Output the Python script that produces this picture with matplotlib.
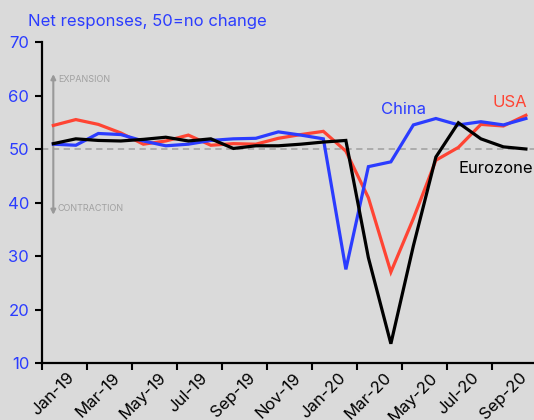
import matplotlib
matplotlib.use("Agg")
import matplotlib.pyplot as plt
from matplotlib.ticker import FixedLocator

plt.rcParams['font.family'] = ['Inter', 'DejaVu Sans']

months = ["Jan-19", "Feb-19", "Mar-19", "Apr-19", "May-19", "Jun-19", "Jul-19", "Aug-19",
          "Sep-19", "Oct-19", "Nov-19", "Dec-19", "Jan-20", "Feb-20", "Mar-20", "Apr-20",
          "May-20", "Jun-20", "Jul-20", "Aug-20", "Sep-20", "Oct-20"]
china = [50.9, 50.7, 52.9, 52.7, 51.5, 50.6, 50.9, 51.6, 51.9, 52.0, 53.2, 52.6,
         51.9, 27.5, 46.7, 47.6, 54.5, 55.7, 54.5, 55.1, 54.5, 55.7]
usa = [54.4, 55.5, 54.6, 53.0, 50.9, 51.5, 52.6, 50.7, 51.0, 50.9, 52.0, 52.7,
       53.3, 49.6, 40.9, 27.0, 37.0, 47.9, 50.3, 54.6, 54.3, 56.3]
eurozone = [51.0, 51.9, 51.6, 51.5, 51.8, 52.2, 51.5, 51.9, 50.1, 50.6, 50.6, 50.9,
            51.3, 51.6, 29.7, 13.6, 31.9, 48.5, 54.9, 51.9, 50.4, 50.0]
yticks = [10, 20, 30, 40, 50, 60, 70]

BLUE = "#2b3cff"
RED = "#ff4433"
BG = "#dadada"

fig = plt.figure(figsize=(5.34, 4.2), dpi=100, facecolor=BG)
ax = fig.add_axes([41.7 / 534, 57 / 420, 1 - 41.7 / 534, (363 - 42) / 420])
ax.set_facecolor(BG)

x = list(range(len(months)))
ax.axhline(50, color="#a8a8a8", lw=1.3, ls=(0, (3.5, 2.5)), zorder=1)
ax.plot(x, china, color=BLUE, lw=2.3, zorder=3, solid_joinstyle='miter')
ax.plot(x, usa, color=RED, lw=2.3, zorder=2, solid_joinstyle='miter')
ax.plot(x, eurozone, color="black", lw=2.3, zorder=4, solid_joinstyle='miter')

ax.set_xlim(-0.516, 21.36)
ax.set_ylim(10, 70)

for s in ["top", "right"]:
    ax.spines[s].set_visible(False)
for s in ["left", "bottom"]:
    ax.spines[s].set_linewidth(1.6)
    ax.spines[s].set_color("black")

ax.set_yticks(yticks)
ax.tick_params(axis='y', direction='out', length=5, width=1.5, colors='black',
               labelcolor=BLUE, labelsize=12, pad=4)

ax.xaxis.set_major_locator(FixedLocator(x[::2]))
ax.set_xticklabels(months[::2])
ax.xaxis.set_minor_locator(FixedLocator([i - 0.5 for i in x[::2]]))
ax.tick_params(axis='x', which='major', length=0, labelsize=12, pad=5)
ax.tick_params(axis='x', which='minor', direction='out', length=5, width=1.5, color='black')
for lbl in ax.get_xticklabels():
    lbl.set_rotation(45)
    lbl.set_ha('center')

# arrow with expansion/contraction
ax.annotate("", xy=(0, 64.0), xytext=(0, 37.7),
            arrowprops=dict(arrowstyle="<|-|>", color="#999999", lw=1.5,
                            mutation_scale=7, shrinkA=0, shrinkB=0), zorder=1)
ax.text(0.2, 62.9, "EXPANSION", color="#a0a0a0", fontsize=6.5, va='center', ha='left')
ax.text(0.2, 38.8, "CONTRACTION", color="#a0a0a0", fontsize=6.5, va='center', ha='left')

ax.text(14.56, 56.5, "China", color=BLUE, fontsize=12, va='baseline', ha='left')
ax.text(19.53, 57.9, "USA", color=RED, fontsize=12, va='baseline', ha='left')
ax.text(18.02, 45.5, "Eurozone", color="black", fontsize=12, va='baseline', ha='left')

fig.text(28 / 534, 1 - 26 / 420, "Net responses, 50=no change", color=BLUE,
         fontsize=12, va='baseline', ha='left')

fig.savefig("out.png", dpi=100, facecolor=BG)
